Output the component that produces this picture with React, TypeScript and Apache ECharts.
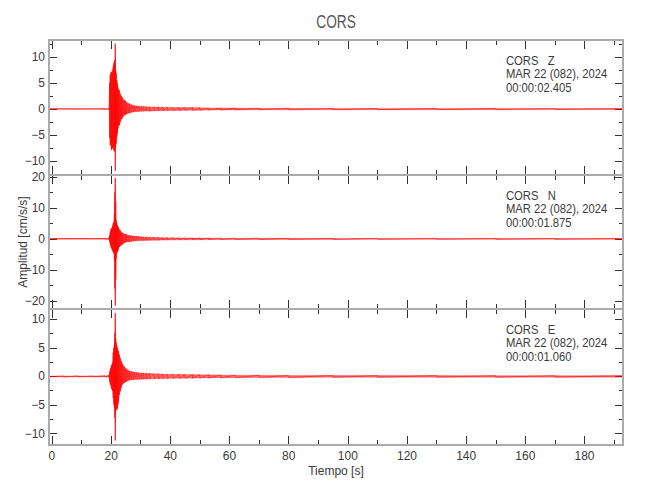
import React, { useEffect, useRef } from "react";
import * as echarts from "echarts";

// ---- data ----
const STATION = "CORS";
const COMPONENTS = ["Z", "N", "E"];
const DATE_LABEL = "MAR 22 (082), 2024";
const START_TIMES = ["00:00:02.405", "00:00:01.875", "00:00:01.060"];

// time bins (s) and min / max amplitude (cm/s/s) of the trace in each bin
const TIME = [
  -1, 4, 9, 14, 18, 19.3,
  19.5, 19.7, 19.9, 20.1, 20.3, 20.5, 20.7, 20.9, 21.1,
  21.25, 21.4, 21.55, 21.7, 21.9, 22.1, 22.3, 22.5,
  22.8, 23.1, 23.4, 23.7, 24.0, 24.4, 24.8, 25.2,
  25.7, 26.2, 26.8, 27.4, 28.0, 28.7, 29.4, 30.2,
  31, 32, 33, 34.5, 36, 37.5, 39, 41,
  43, 45, 47.5, 50, 53, 57, 62, 70,
  80, 95, 110, 130, 150, 170, 193,
];

const Z_MAX = [
  0.06, 0.07, 0.06, 0.07, 0.08, 0.1,
  5.0, 6.5, 7.0, 7.2, 6.8, 7.5, 8.2, 8.8, 9.4,
  9.0, 12.6, 7.4, 6.9, 5.6, 4.9, 4.2, 3.8,
  3.6, 2.9, 2.5, 2.3, 1.9, 1.7, 1.6, 1.3,
  1.1, 1.0, 0.85, 0.7, 0.65, 0.6, 0.55, 0.5,
  0.48, 0.45, 0.42, 0.4, 0.38, 0.36, 0.35, 0.32,
  0.3, 0.28, 0.3, 0.25, 0.22, 0.2, 0.18, 0.15,
  0.14, 0.13, 0.12, 0.12, 0.11, 0.11, 0.1,
];
const Z_MIN = [
  -0.06, -0.06, -0.07, -0.06, -0.07, -0.1,
  -5.5, -7.0, -6.8, -7.9, -7.4, -7.6, -7.2, -7.9, -8.2,
  -7.5, -11.9, -7.0, -6.6, -5.4, -4.7, -3.8, -3.3,
  -3.1, -2.5, -2.0, -1.8, -1.5, -1.2, -1.15, -0.95,
  -0.85, -0.75, -0.65, -0.55, -0.5, -0.45, -0.45, -0.42,
  -0.4, -0.38, -0.4, -0.35, -0.33, -0.32, -0.3, -0.28,
  -0.28, -0.25, -0.25, -0.22, -0.2, -0.18, -0.16, -0.14,
  -0.13, -0.12, -0.12, -0.11, -0.11, -0.1, -0.1,
];

const N_MAX = [
  0.1, 0.1, 0.12, 0.1, 0.12, 0.2,
  1.2, 2.2, 3.0, 3.5, 3.2, 4.2, 5.0, 5.4, 8.0,
  15.0, 19.6, 12.0, 6.0, 5.2, 4.4, 4.0, 3.6,
  3.0, 2.7, 2.3, 2.0, 1.8, 1.6, 1.5, 1.4,
  1.2, 1.1, 1.0, 0.95, 0.9, 0.85, 0.8, 0.7,
  0.65, 0.6, 0.55, 0.5, 0.45, 0.4, 0.38, 0.35,
  0.32, 0.3, 0.28, 0.26, 0.25, 0.22, 0.2, 0.18,
  0.17, 0.16, 0.15, 0.15, 0.14, 0.14, 0.13,
];
const N_MIN = [
  -0.1, -0.12, -0.1, -0.12, -0.12, -0.2,
  -1.0, -1.8, -2.6, -3.0, -3.4, -3.8, -4.3, -4.6, -7.0,
  -16.0, -21.5, -13.0, -6.2, -4.6, -4.2, -3.8, -3.2,
  -2.6, -2.3, -2.0, -1.8, -1.6, -1.3, -1.1, -1.0,
  -0.95, -0.9, -0.85, -0.7, -0.65, -0.6, -0.55, -0.5,
  -0.5, -0.48, -0.45, -0.42, -0.4, -0.36, -0.34, -0.3,
  -0.3, -0.28, -0.26, -0.24, -0.22, -0.2, -0.2, -0.18,
  -0.16, -0.16, -0.15, -0.14, -0.14, -0.13, -0.13,
];

const E_MAX = [
  0.08, 0.08, 0.09, 0.08, 0.1, 0.15,
  0.8, 1.2, 1.5, 2.0, 2.1, 2.4, 4.2, 5.0, 5.6,
  7.6, 11.1, 6.5, 5.9, 5.4, 5.0, 4.6, 4.4,
  3.8, 3.2, 2.7, 2.3, 2.0, 1.7, 1.5, 1.3,
  1.15, 0.95, 0.85, 0.8, 0.75, 0.7, 0.62, 0.6,
  0.58, 0.55, 0.52, 0.48, 0.45, 0.42, 0.4, 0.38,
  0.36, 0.35, 0.32, 0.3, 0.28, 0.25, 0.22, 0.2,
  0.18, 0.16, 0.15, 0.15, 0.14, 0.14, 0.13,
];
const E_MIN = [
  -0.08, -0.09, -0.08, -0.08, -0.09, -0.15,
  -0.9, -1.4, -1.6, -2.1, -2.3, -2.6, -3.8, -4.9, -5.5,
  -7.2, -11.2, -6.0, -5.8, -5.8, -5.6, -5.0, -4.4,
  -3.2, -2.6, -2.0, -1.5, -1.3, -1.1, -1.0, -0.9,
  -0.75, -0.65, -0.6, -0.58, -0.55, -0.52, -0.5, -0.5,
  -0.48, -0.46, -0.44, -0.42, -0.4, -0.38, -0.36, -0.34,
  -0.32, -0.3, -0.3, -0.28, -0.26, -0.24, -0.22, -0.18,
  -0.17, -0.16, -0.15, -0.14, -0.14, -0.13, -0.13,
];

const TRACE_MAX = [Z_MAX, N_MAX, E_MAX];
const TRACE_MIN = [Z_MIN, N_MIN, E_MIN];

// ---- layout / style ----
const FONT = "'Liberation Sans', Arial, sans-serif";
const TEXT = "#3a3a3a";
const FRAME = "#ababab";
const TICK = "#333333";
const PLOT_LEFT = 49;
const PLOT_WIDTH = 574;
const PANELS = [
  { top: 40, height: 135, min: -12.7, max: 13.3, split: 5, step: 5 },
  { top: 175, height: 134, min: -22.6, max: 20.6, split: 4, step: 10 },
  { top: 309, height: 136, min: -12.0, max: 11.8, split: 5, step: 5 },
];
const X_MIN = -1;
const X_MAX = 193;

const fmtNum = (v: number, step: number) => {
  if (Math.abs(v / step - Math.round(v / step)) > 1e-6) return "";
  const r = Math.round(v);
  return r < 0 ? "\u2212" + Math.abs(r) : String(r);
};

function buildOption() {
  const grid: any[] = [];
  const xAxis: any[] = [];
  const yAxis: any[] = [];
  const series: any[] = [];
  const graphic: any[] = [];

  PANELS.forEach((p, i) => {
    grid.push({
      left: PLOT_LEFT,
      width: PLOT_WIDTH,
      top: p.top,
      height: p.height,
      containLabel: false,
      outerBoundsMode: "none",
    });
    const isLast = i === PANELS.length - 1;
    ["bottom", "top"].forEach((pos) => {
      xAxis.push({
        type: "value",
        gridIndex: i,
        position: pos,
        min: X_MIN,
        max: X_MAX,
        splitNumber: 10,
        axisLine: { show: false, onZero: false },
        axisTick: { show: true, inside: true, length: 9, lineStyle: { color: TICK, width: 1 } },
        minorTick: { show: true, splitNumber: 2, length: 5, lineStyle: { color: TICK, width: 1 } },
        splitLine: { show: false },
        minorSplitLine: { show: false },
        axisLabel: {
          show: pos === "bottom" && isLast,
          margin: 5,
          fontSize: 12,
          fontFamily: FONT,
          color: TEXT,
          formatter: (v: number) => fmtNum(v, 20),
        },
        name: pos === "bottom" && isLast ? "Tiempo [s]" : "",
        nameLocation: "middle",
        nameGap: 20,
        nameMoveOverlap: false,
        nameTextStyle: { fontSize: 12, fontFamily: FONT, color: TEXT },
      });
    });
    ["left", "right"].forEach((pos) => {
      yAxis.push({
        type: "value",
        gridIndex: i,
        position: pos,
        min: p.min,
        max: p.max,
        splitNumber: p.split,
        axisLine: { show: false, onZero: false },
        axisTick: { show: true, inside: true, length: 8, lineStyle: { color: TICK, width: 1 } },
        minorTick: { show: true, splitNumber: 2, length: 4, lineStyle: { color: TICK, width: 1 } },
        splitLine: { show: false },
        minorSplitLine: { show: false },
        axisLabel: {
          show: pos === "left",
          margin: 4,
          fontSize: 12,
          fontFamily: FONT,
          color: TEXT,
          formatter: (v: number) => fmtNum(v, p.step),
        },
        name: pos === "left" && i === 1 ? "Amplitud [cm/s/s]" : "",
        nameLocation: "middle",
        nameRotate: 90,
        nameGap: 20,
        nameMoveOverlap: false,
        nameTextStyle: { fontSize: 12, fontFamily: FONT, color: TEXT },
      });
    });

    const hi = TRACE_MAX[i];
    const lo = TRACE_MIN[i];
    // filled envelope of the trace
    series.push({
      type: "custom",
      xAxisIndex: 2 * i,
      yAxisIndex: 2 * i,
      silent: true,
      clip: true,
      data: [[0, 0]],
      renderItem: (_params: any, api: any) => {
        const top = TIME.map((t, k) => api.coord([t, hi[k]]));
        const bottom = TIME.map((t, k) => api.coord([t, lo[k]])).reverse();
        return {
          type: "polygon",
          shape: { points: top.concat(bottom) },
          style: { fill: "rgba(255,0,0,0.55)", stroke: "rgba(255,0,0,0.5)", lineWidth: 0.5 },
        };
      },
    });
    // min/max trace line
    const zig: number[][] = [];
    TIME.forEach((t, k) => {
      zig.push([t, hi[k]]);
      zig.push([t, lo[k]]);
    });
    series.push({
      type: "line",
      xAxisIndex: 2 * i,
      yAxisIndex: 2 * i,
      data: zig,
      symbol: "none",
      showSymbol: false,
      silent: true,
      clip: true,
      lineStyle: { color: "#ff0000", width: 0.55 },
    });

    // frame
    graphic.push({
      type: "rect",
      z: 100,
      silent: true,
      shape: { x: PLOT_LEFT, y: p.top, width: PLOT_WIDTH, height: p.height },
      style: { fill: "none", stroke: FRAME, lineWidth: 2 },
    });
    // station annotation
    const lines = [`${STATION}   ${COMPONENTS[i]}`, DATE_LABEL, START_TIMES[i]];
    lines.forEach((txt, k) => {
      graphic.push({
        type: "text",
        z: 101,
        silent: true,
        x: 506,
        y: p.top + 20.5 + k * 13.4,
        scaleX: 0.9,
        style: {
          text: txt,
          fill: TEXT,
          font: `12.5px ${FONT}`,
          verticalAlign: "middle",
          align: "left",
        },
      });
    });
  });

  // title
  graphic.push({
    type: "text",
    z: 101,
    silent: true,
    x: 336,
    y: 22,
    scaleX: 0.76,
    style: {
      text: STATION,
      fill: "#555",
      font: `18px ${FONT}`,
      verticalAlign: "middle",
      align: "center",
    },
  });

  return {
    animation: false,
    backgroundColor: "#ffffff",
    grid,
    xAxis,
    yAxis,
    series,
    graphic,
  };
}

export default function App() {
  const ref = useRef<HTMLDivElement>(null);
  useEffect(() => {
    if (!ref.current) return;
    const chart = echarts.init(ref.current, undefined, { renderer: "svg" });
    chart.setOption(buildOption() as any);
    return () => chart.dispose();
  }, []);
  return (
    <div
      ref={ref}
      style={{ position: "fixed", left: 0, top: 0, width: 650, height: 500, background: "#fff" }}
    />
  );
}
